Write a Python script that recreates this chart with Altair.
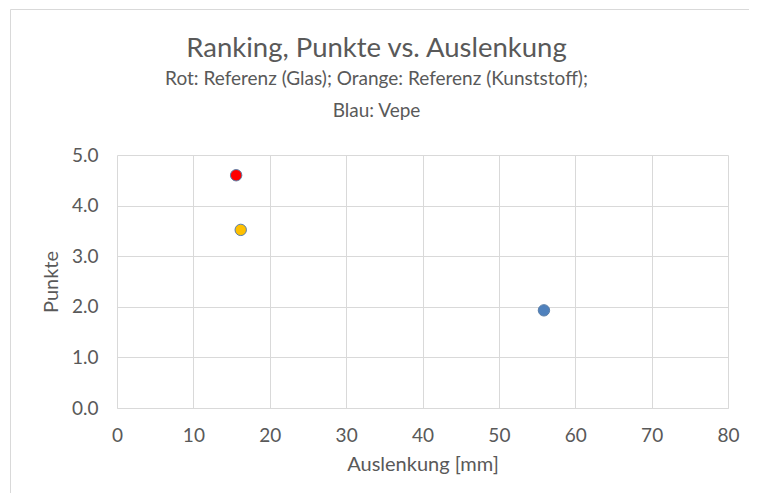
import altair as alt
import pandas as pd

# Data
serie = ["Rot: Referenz (Glas)", "Orange: Referenz (Kunststoff)", "Blau: Vepe"]
auslenkung = [15.6, 16.2, 55.9]
punkte = [4.6, 3.52, 1.93]
farben = ["#ff0000", "#ffc000", "#4f81bd"]

x_ticks = [0, 10, 20, 30, 40, 50, 60, 70, 80]
y_ticks = [0, 1, 2, 3, 4, 5]

df = pd.DataFrame({"Serie": serie, "Auslenkung": auslenkung, "Punkte": punkte})

FONT = "Lato"
TXT = "#595959"
GRID = "#d9d9d9"

# chart frame (top and left edges, as visible in the reference)
frame_top = alt.Chart(alt.Data(values=[{}])).mark_rule(
    stroke=GRID, strokeWidth=1, clip=False
).encode(x=alt.value(-106.5), x2=alt.value(700), y=alt.value(-145.5))

frame_left = alt.Chart(alt.Data(values=[{}])).mark_rule(
    stroke=GRID, strokeWidth=1, clip=False
).encode(x=alt.value(-106.5), y=alt.value(-145.5), y2=alt.value(400))

points = alt.Chart(df).mark_point(
    filled=True, size=130, stroke="#5b7fa8", strokeWidth=1, opacity=1
).encode(
    x=alt.X("Auslenkung:Q", scale=alt.Scale(domain=[0, 80], nice=False),
            axis=alt.Axis(title="Auslenkung [mm]", values=x_ticks, format="d",
                          grid=True, ticks=False, domain=True, domainColor=GRID,
                          labelFlush=False, labelPadding=18, titlePadding=9)),
    y=alt.Y("Punkte:Q", scale=alt.Scale(domain=[0, 5], nice=False),
            axis=alt.Axis(title="Punkte", values=y_ticks, format=".1f",
                          grid=True, ticks=False, domain=False,
                          labelPadding=19, titlePadding=10)),
    fill=alt.Fill("Serie:N", scale=alt.Scale(domain=serie, range=farben), legend=None),
)

chart = alt.layer(frame_top, frame_left, points).properties(
    width=611,
    height=253,
    padding={"left": 109, "top": 147, "right": 21, "bottom": 85},
    autosize=alt.AutoSizeParams(type="none"),
    title=alt.TitleParams(
        text="Ranking, Punkte vs. Auslenkung",
        subtitle=["Rot: Referenz (Glas); Orange: Referenz (Kunststoff);", "Blau: Vepe"],
        anchor="middle",
        frame="group",
        dx=-46,
        dy=134,
        offset=22,
        font=FONT,
        fontSize=27.5,
        fontWeight="normal",
        color=TXT,
        subtitleFont=FONT,
        subtitleFontSize=19,
        subtitleColor=TXT,
        subtitleLineHeight=32,
        subtitlePadding=8,
    ),
).configure_view(stroke=None).configure_axis(
    labelFont=FONT, labelFontSize=19, labelColor=TXT,
    titleFont=FONT, titleFontSize=20, titleColor=TXT, titleFontWeight="normal",
    gridColor=GRID, gridWidth=1,
)

chart.save("out.html", embed_options={"renderer": "svg", "actions": False})
